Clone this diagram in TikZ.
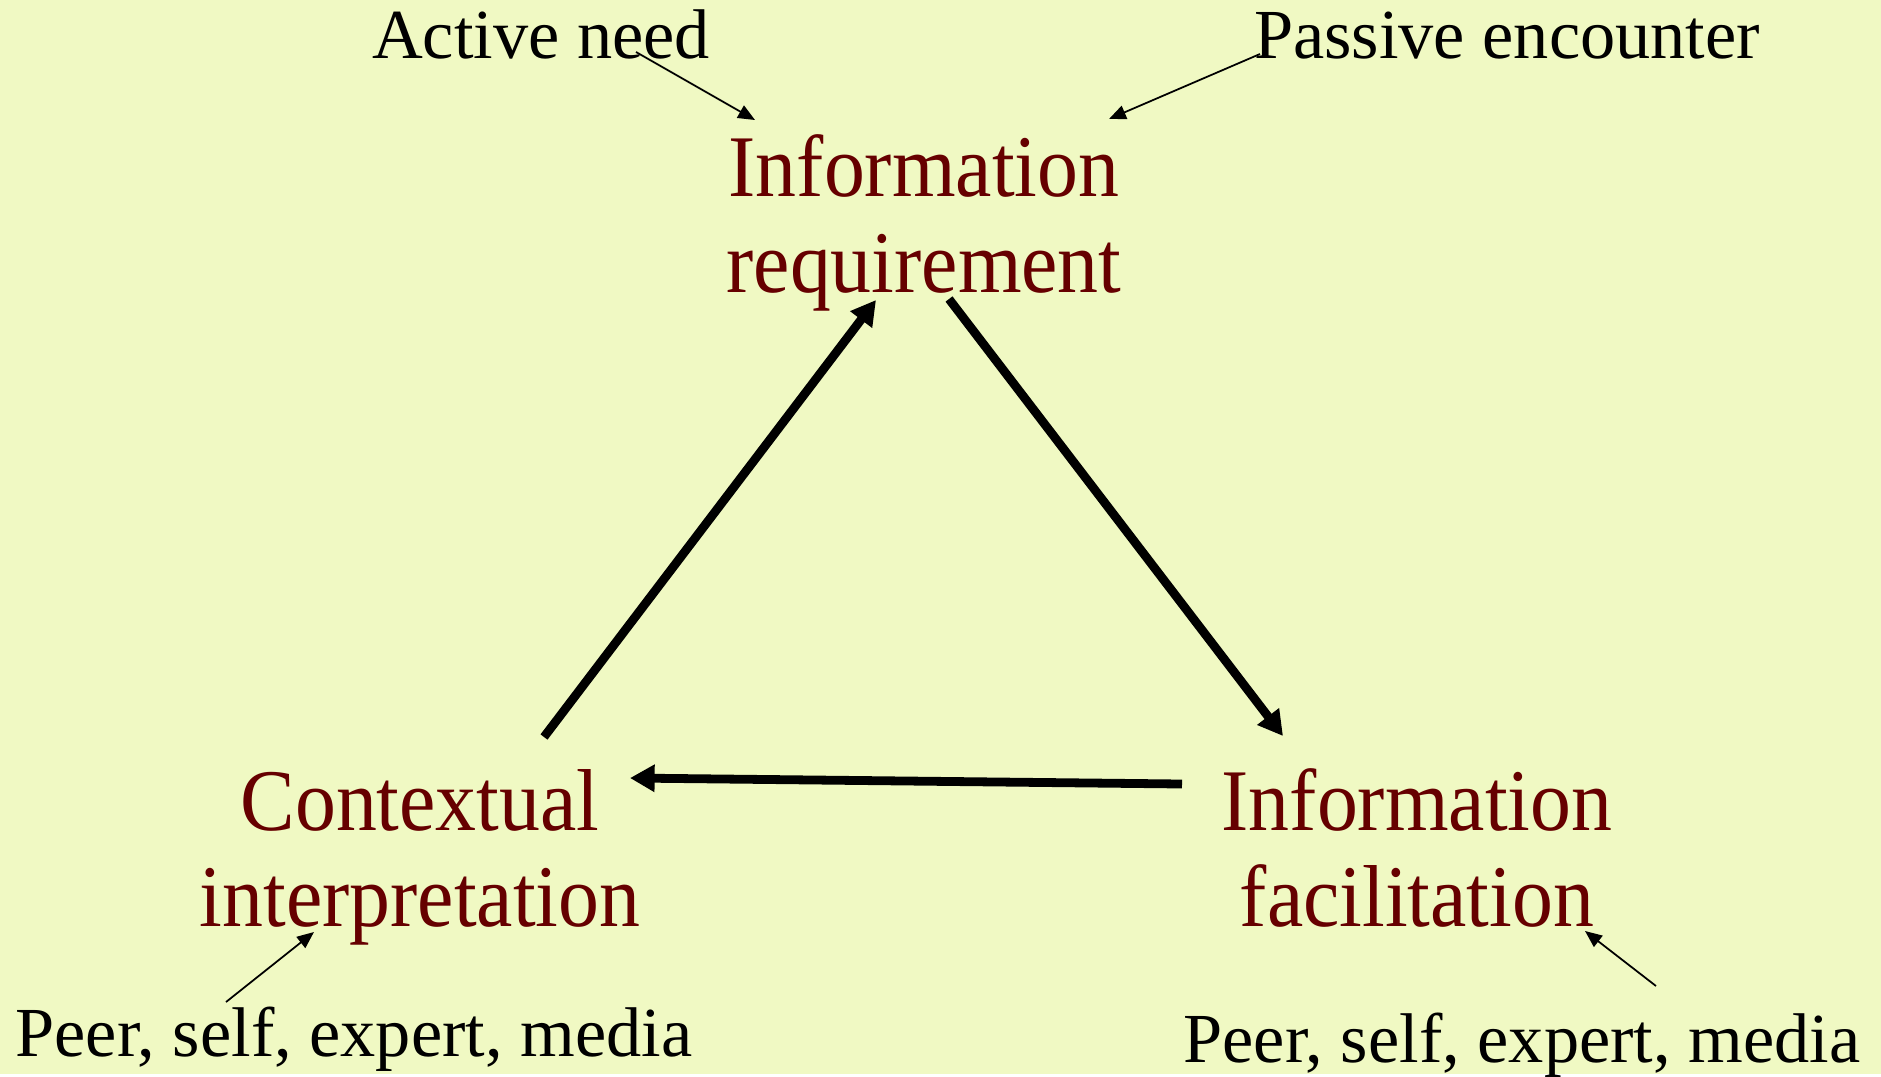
\documentclass[tikz,border=0pt]{standalone}
\usepackage{fontspec}
\setmainfont{Liberation Serif}
\newfontfamily\stagefont[FakeStretch=0.93]{Liberation Serif}
\usetikzlibrary{arrows.meta}
\definecolor{bgcol}{RGB}{240,249,195}
\definecolor{stagecol}{RGB}{102,0,0}

\begin{document}
\begin{tikzpicture}[x=0.01cm,y=-0.01cm,
    stage/.style={inner sep=0,anchor=base,align=center,text=stagecol,
        font=\stagefont\fontsize{25}{27.3}\selectfont},
    source/.style={inner sep=0,anchor=base,font=\fontsize{20}{24}\selectfont},
    flow/.style={line width=2.5pt,-{Triangle[length=7pt,width=7.4pt]}},
    hint/.style={line width=0.5pt,-{Triangle[length=4.8pt,width=4pt]}}]
    \fill[bgcol] (0,0) rectangle (1881,1074);

    \node[stage] (req) at (924,292) {Information\\requirement};
    \node[stage] (ctx) at (420,926) {Contextual\\interpretation};
    \node[stage] (fac) at (1417,926) {Information\\facilitation};

    \node[source] (active) at (541,58) {Active need};
    \node[source] (passive) at (1507,58) {Passive encounter};
    \node[source] (peerL) at (354,1056) {Peer, self, expert, media};
    \node[source] (peerR) at (1522,1062) {Peer, self, expert, media};

    \draw[flow] ([shift={(124,-189)}]ctx.base) -- ([shift={(-48,8)}]req.base);
    \draw[flow] ([shift={(25,7)}]req.base) -- ([shift={(-134,-190)}]fac.base);
    \draw[flow] ([shift={(-235,-142)}]fac.base) -- ([shift={(210,-148)}]ctx.base);

    \draw[hint] ([shift={(95,-6)}]active.base) -- ([shift={(-169,-172)}]req.base);
    \draw[hint] ([shift={(-247,-4)}]passive.base) -- ([shift={(185,-173)}]req.base);
    \draw[hint] ([shift={(-128,-54)}]peerL.base) -- ([shift={(-106,6)}]ctx.base);
    \draw[hint] ([shift={(134,-76)}]peerR.base) -- ([shift={(168,5)}]fac.base);
\end{tikzpicture}
\end{document}
